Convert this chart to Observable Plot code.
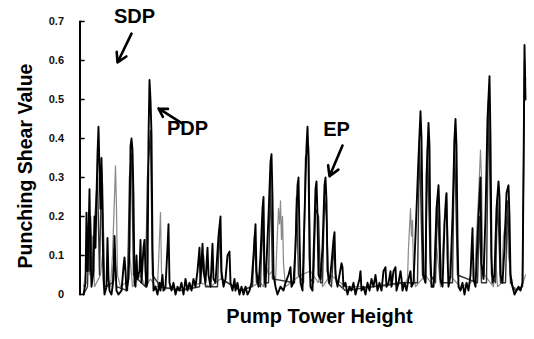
<!DOCTYPE html>
<html>
<head>
<meta charset="utf-8">
<script src="https://cdn.jsdelivr.net/npm/d3@7"></script>
<script src="https://cdn.jsdelivr.net/npm/@observablehq/plot@0.6"></script>
</head>
<body style="margin:0;background:#fff">
<div id="chart"></div>
<script>
// [pump tower height (arbitrary units), punching shear value]
const pdpPoints = [[83,0.00],[85,0.03],[86,0.21],[87,0.06],[88,0.15],[89,0.27],[90,0.10],[91,0.02],[93,0.06],[94,0.20],[95,0.12],[96,0.25],[97,0.36],[98,0.43],[99,0.32],[100,0.22],[101,0.35],[102,0.18],[103,0.04],[104,0.00],[106,0.02],[107,0.145],[108,0.04],[109,0.01],[111,0.00],[113,0.04],[114,0.15],[115,0.07],[116,0.01],[118,0.00],[121,0.01],[123,0.07],[124,0.095],[125,0.06],[126,0.01],[128,0.04],[129,0.12],[130,0.38],[131,0.40],[132,0.37],[133,0.25],[134,0.03],[135,0.02],[136,0.10],[137,0.04],[139,0.06],[140,0.14],[141,0.03],[143,0.12],[144,0.14],[145,0.06],[146,0.02],[147,0.03],[148,0.40],[149,0.55],[150,0.50],[151,0.41],[152,0.12],[153,0.01],[155,0.02],[157,0.00],[159,0.03],[160,0.01],[162,0.05],[163,0.01],[165,0.02],[167,0.12],[168,0.18],[169,0.03],[171,0.01],[173,0.03],[175,0.00],[177,0.02],[179,0.01],[181,0.03],[183,0.00],[185,0.04],[187,0.01],[189,0.03],[191,0.01],[193,0.04],[195,0.02],[197,0.06],[199,0.12],[200,0.03],[202,0.13],[203,0.06],[205,0.03],[207,0.12],[208,0.05],[210,0.02],[212,0.13],[213,0.04],[215,0.03],[218,0.15],[220,0.20],[221,0.06],[223,0.02],[225,0.04],[227,0.10],[229,0.11],[230,0.03],[232,0.01],[234,0.04],[235,0.01],[237,0.03],[239,0.00],[241,0.02],[243,0.00],[245,0.02],[247,0.00],[249,0.01],[251,0.03],[253,0.10],[255,0.18],[256,0.06],[258,0.02],[260,0.10],[262,0.22],[263,0.25],[264,0.05],[265,0.02],[268,0.20],[270,0.34],[271,0.36],[272,0.25],[273,0.05],[275,0.02],[277,0.00],[280,0.02],[283,0.01],[285,0.03],[288,0.05],[290,0.07],[291,0.02],[293,0.03],[295,0.12],[297,0.28],[298,0.30],[299,0.15],[300,0.03],[302,0.01],[304,0.20],[306,0.38],[307,0.43],[308,0.35],[309,0.10],[310,0.02],[312,0.01],[314,0.18],[315,0.27],[316,0.29],[317,0.20],[318,0.05],[320,0.04],[322,0.12],[324,0.28],[325,0.30],[326,0.24],[327,0.06],[329,0.03],[331,0.08],[333,0.14],[334,0.16],[335,0.05],[337,0.02],[339,0.05],[341,0.08],[342,0.07],[343,0.02],[345,0.03],[347,0.00],[349,0.02],[351,0.01],[353,0.03],[355,0.00],[357,0.02],[359,0.04],[360,0.06],[361,0.01],[363,0.02],[365,0.00],[367,0.03],[369,0.01],[371,0.04],[373,0.02],[375,0.05],[377,0.01],[379,0.03],[381,0.01],[383,0.06],[385,0.07],[386,0.02],[388,0.03],[390,0.06],[391,0.02],[393,0.06],[395,0.07],[396,0.01],[398,0.03],[400,0.06],[401,0.04],[402,0.01],[404,0.03],[406,0.01],[408,0.04],[410,0.06],[411,0.02],[413,0.03],[415,0.15],[418,0.35],[420,0.47],[421,0.40],[422,0.20],[423,0.05],[425,0.03],[426,0.30],[428,0.44],[429,0.38],[430,0.10],[431,0.02],[433,0.02],[434,0.06],[436,0.22],[438,0.28],[439,0.20],[440,0.04],[442,0.02],[444,0.18],[446,0.26],[447,0.10],[448,0.02],[450,0.05],[452,0.20],[454,0.40],[455,0.45],[456,0.38],[457,0.15],[458,0.02],[460,0.01],[462,0.03],[464,0.00],[466,0.03],[468,0.01],[470,0.05],[472,0.17],[473,0.04],[475,0.02],[478,0.20],[480,0.30],[481,0.08],[483,0.04],[485,0.20],[487,0.45],[489,0.56],[490,0.40],[491,0.10],[492,0.03],[494,0.05],[496,0.22],[498,0.29],[499,0.25],[500,0.05],[502,0.03],[504,0.12],[506,0.26],[508,0.28],[509,0.20],[510,0.05],[512,0.02],[514,0.00],[516,0.01],[518,0.02],[520,0.01],[522,0.03],[523,0.30],[524,0.64],[525,0.50]];

const epPoints = [[83,0.00],[87,0.02],[88,0.12],[89,0.06],[90,0.20],[92,0.05],[95,0.22],[97,0.30],[99,0.05],[101,0.33],[102,0.28],[104,0.02],[112,0.03],[114,0.12],[116,0.02],[127,0.01],[129,0.30],[131,0.36],[133,0.05],[145,0.02],[147,0.30],[150,0.42],[152,0.05],[160,0.02],[180,0.01],[199,0.02],[200,0.05],[203,0.10],[205,0.02],[217,0.02],[219,0.17],[221,0.04],[240,0.01],[252,0.02],[254,0.15],[256,0.03],[260,0.02],[262,0.20],[264,0.03],[268,0.03],[270,0.30],[272,0.04],[294,0.03],[296,0.25],[298,0.05],[303,0.03],[305,0.35],[308,0.38],[310,0.04],[313,0.03],[315,0.22],[318,0.20],[320,0.03],[322,0.03],[324,0.25],[326,0.20],[328,0.03],[331,0.02],[333,0.12],[336,0.03],[345,0.01],[400,0.03],[417,0.03],[419,0.40],[422,0.05],[425,0.03],[427,0.38],[430,0.05],[435,0.03],[437,0.24],[440,0.03],[452,0.03],[454,0.40],[457,0.05],[477,0.03],[479,0.20],[481,0.03],[486,0.03],[488,0.50],[491,0.05],[495,0.03],[497,0.25],[500,0.03],[505,0.03],[507,0.24],[510,0.03],[515,0.01],[522,0.02],[524,0.60],[525,0.55]];

const sdpPoints = [[83,0.02],[85,0.05],[86,0.12],[87,0.06],[88,0.16],[89,0.05],[90,0.14],[91,0.04],[92,0.15],[93,0.10],[94,0.02],[100,0.05],[102,0.10],[104,0.02],[110,0.02],[112,0.10],[114,0.25],[115,0.33],[116,0.22],[117,0.05],[120,0.02],[125,0.03],[127,0.02],[128,0.12],[130,0.08],[132,0.02],[135,0.03],[140,0.05],[145,0.02],[150,0.04],[155,0.02],[157,0.02],[158,0.08],[160,0.21],[161,0.06],[163,0.01],[170,0.02],[180,0.01],[200,0.03],[210,0.02],[220,0.04],[240,0.01],[260,0.03],[263,0.02],[265,0.08],[268,0.05],[272,0.06],[275,0.03],[276,0.10],[278,0.22],[279,0.18],[280,0.24],[281,0.14],[282,0.20],[283,0.08],[285,0.02],[300,0.05],[310,0.06],[318,0.03],[320,0.08],[322,0.02],[330,0.05],[345,0.02],[380,0.02],[405,0.03],[407,0.04],[408,0.12],[410,0.22],[411,0.15],[412,0.19],[413,0.06],[415,0.02],[425,0.05],[433,0.02],[434,0.08],[435,0.15],[437,0.10],[440,0.02],[443,0.15],[445,0.25],[446,0.26],[447,0.18],[449,0.05],[460,0.02],[470,0.03],[474,0.04],[476,0.15],[478,0.25],[480,0.37],[481,0.30],[482,0.12],[484,0.05],[493,0.02],[495,0.10],[497,0.02],[501,0.03],[503,0.15],[506,0.20],[508,0.10],[512,0.02],[520,0.01],[525,0.05]];

const yTicks = [0, 0.1, 0.2, 0.3, 0.4, 0.5, 0.6, 0.7];
const yTickLabels = ["0", "0.1", "0.2", "0.3", "0.4", "0.5", "0.6", "0.7"];

const seriesNames = ["SDP", "PDP", "EP"];
// annotation label anchors and arrows (data units)
const labelHeight = [134, 187, 336];
const labelValue = [0.713, 0.426, 0.423];
const labelAnchor = ["middle", "start", "start"];
const arrowFromH = [131, 182, 342];
const arrowFromV = [0.669, 0.438, 0.382];
const arrowToH = [117, 158, 329];
const arrowToV = [0.595, 0.477, 0.303];

const toRows = (pts) => pts.map(([h, v]) => ({h, v}));
const sdp = toRows(sdpPoints);
const pdp = toRows(pdpPoints);
const ep = toRows(epPoints);
const labels = seriesNames.map((name, i) => ({name, h: labelHeight[i], v: labelValue[i], a: labelAnchor[i]}));
const arrows = seriesNames.map((name, i) => ({x1: arrowFromH[i], y1: arrowFromV[i], x2: arrowToH[i], y2: arrowToV[i]}));
const xStart = 74;
const axisAt = 79.5;
const yDomain = [0, 0.7];
const ff = "Liberation Sans, Arial, sans-serif";
const axisLine = yDomain.map((v) => ({h: axisAt, v}));
const tickSegs = yTicks.flatMap((t) => [{h: axisAt, v: t, t}, {h: axisAt + 4, v: t, t}]);

const chart = Plot.plot({
  width: 534,
  height: 339,
  marginLeft: xStart,
  marginRight: 8,
  marginTop: 21,
  marginBottom: 45,
  x: {domain: [xStart, 526], axis: null},
  y: {domain: yDomain, axis: null},
  marks: [
    Plot.text(yTicks, {x: axisAt, y: (d) => d, text: (d, i) => yTickLabels[i], textAnchor: "end", dx: -16,
      fontSize: 11, fontWeight: "bold", fill: "#111", fontFamily: ff}),
    Plot.line(sdp, {x: "h", y: "v", stroke: "#8a8a8a", strokeWidth: 1.3, strokeDasharray: "1.5,1"}),
    Plot.line(ep, {x: "h", y: "v", stroke: "#333", strokeWidth: 1.4}),
    Plot.line(pdp, {x: "h", y: "v", stroke: "#000", strokeWidth: 1.9}),
    Plot.arrow(arrows, {x1: "x1", y1: "y1", x2: "x2", y2: "y2", stroke: "#000", strokeWidth: 2.6, headLength: 9}),
    Plot.text(labels, {x: "h", y: "v", text: "name", textAnchor: "a", fontSize: 20, fontWeight: "bold", fill: "#000", fontFamily: ff}),
    Plot.text(["Pump Tower Height"], {frameAnchor: "bottom", dy: 28, dx: 19, fontSize: 20, fontWeight: "bold", fill: "#000", fontFamily: ff}),
    Plot.text(["Punching Shear Value"], {frameAnchor: "left", textAnchor: "middle", dx: -49, dy: 8, rotate: -90, fontSize: 19.5, fontWeight: "bold", fill: "#000", fontFamily: ff}),
    // y axis line and inward ticks
    Plot.line(axisLine, {x: "h", y: "v", stroke: "#000", strokeWidth: 2}),
    Plot.line(tickSegs, {x: "h", y: "v", z: "t", stroke: "#000", strokeWidth: 1.6}),
    Plot.ruleX([axisAt], {y1: yDomain[0], y2: yDomain[1], stroke: "#000", strokeWidth: 2})
  ]
});
document.getElementById("chart").appendChild(chart);
</script>
</body>
</html>
